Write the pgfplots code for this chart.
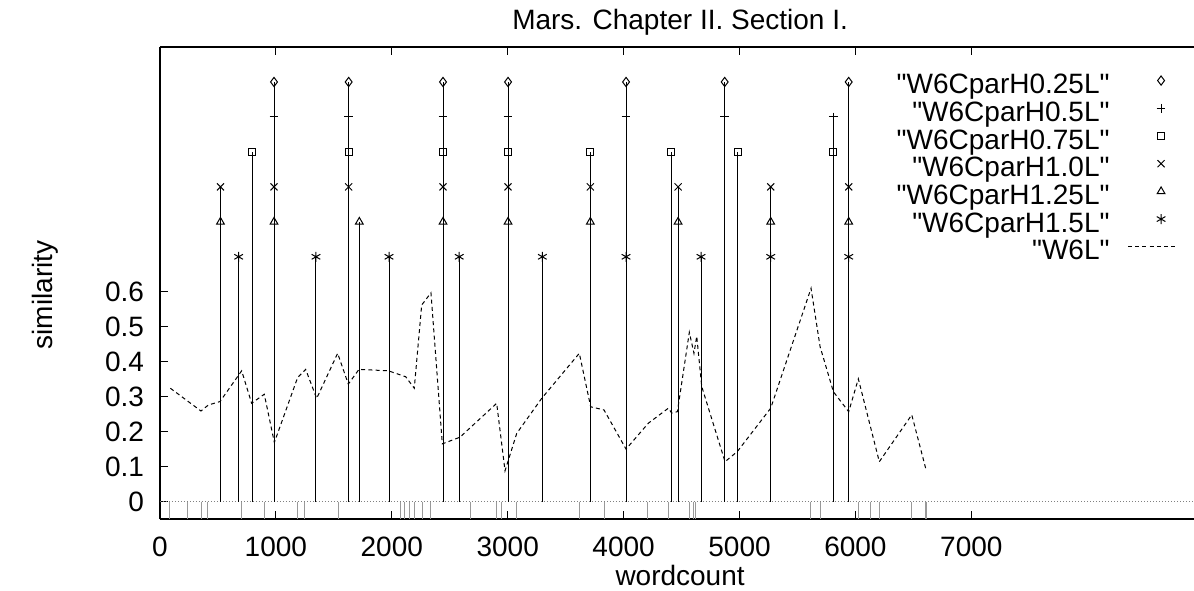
\documentclass[border=0pt]{standalone}
\usepackage{fontspec}
\setmainfont{Liberation Sans}[Ligatures=TeXOff]
\usepackage{pgfplots}
\pgfplotsset{compat=1.18}
% legend images: mark only for the combs, short dashed line for W6L
\pgfplotsset{
  combleg/.style={legend image code/.code={%
    \path (0pt,0pt) (33.5pt,0pt);
    \draw[##1] plot[only marks] coordinates {(25.5pt,3.5pt)};}},
  dashleg/.style={legend image code/.code={%
    \path (0pt,0pt);
    \draw[##1] (9pt,3.5pt) -- (33.5pt,3.5pt);}},
}
\begin{document}
\begin{tikzpicture}
\begin{axis}[
    width=517pt, height=236pt, scale only axis,
    xmin=0, xmax=8921, ymin=-0.05, ymax=1.3,
    axis x line*=box, axis y line*=left,
    y axis line style={-}, x axis line style={-},
    axis line style={line width=0.75pt},
    clip=false,
    xtick={0,1000,2000,3000,4000,5000,6000,7000},
    ytick={0,0.1,0.2,0.3,0.4,0.5,0.6},
    tick align=inside, xtick pos=both, ytick pos=left,
    major tick length=3.8pt,
    tick style={black, line width=0.5pt},
    scaled x ticks=false,
    /pgf/number format/1000 sep={},
    /pgf/number format/assume math mode=true,
    tick label style={font=\fontsize{14}{16}\selectfont},
    xticklabel style={inner sep=0pt, anchor=north, yshift=-8.85pt},
    yticklabel style={inner sep=0pt, anchor=east, xshift=-7.8pt},
    every axis title shift=0pt,
    title={Mars. Chapter II. Section I.},
    title style={font=\fontsize{14}{16}\selectfont, at={(0.503,1.0375)}, anchor=base, inner sep=0pt},
    xlabel={wordcount},
    xlabel style={font=\fontsize{14}{16}\selectfont, at={(0.503,-0.1398)}, anchor=base, inner sep=0pt},
    ylabel={similarity},
    ylabel style={font=\fontsize{14}{16}\selectfont, at={(-0.1112,0.4746)}, anchor=center, inner sep=0pt},
    legend plot pos=right,
    legend cell align=right,
    legend style={draw=none, fill=none, inner sep=0pt, row sep=0pt,
        at={(0.9845,0.9443)}, anchor=north east,
        font=\fontsize{14}{16}\selectfont,
        nodes={inner sep=0pt, text height=10pt, text depth=3.85pt}},
    every axis plot/.append style={line width=0.5pt},
    mark size=1.9pt,
]

% gray rug marks under the zero line
\addplot[gray!80, unbounded coords=jump, forget plot] coordinates {
(86,0) (86,-0.05) (86,nan)
(236,0) (236,-0.05) (236,nan)
(360,0) (360,-0.05) (360,nan)
(408,0) (408,-0.05) (408,nan)
(705,0) (705,-0.05) (705,nan)
(900,0) (900,-0.05) (900,nan)
(1188,0) (1188,-0.05) (1188,nan)
(1251,0) (1251,-0.05) (1251,nan)
(1539,0) (1539,-0.05) (1539,nan)
(2077,0) (2077,-0.05) (2077,nan)
(2114,0) (2114,-0.05) (2114,nan)
(2151,0) (2151,-0.05) (2151,nan)
(2200,0) (2200,-0.05) (2200,nan)
(2267,0) (2267,-0.05) (2267,nan)
(2338,0) (2338,-0.05) (2338,nan)
(2681,0) (2681,-0.05) (2681,nan)
(2905,0) (2905,-0.05) (2905,nan)
(2948,0) (2948,-0.05) (2948,nan)
(3078,0) (3078,-0.05) (3078,nan)
(3616,0) (3616,-0.05) (3616,nan)
(3831,0) (3831,-0.05) (3831,nan)
(4208,0) (4208,-0.05) (4208,nan)
(4386,0) (4386,-0.05) (4386,nan)
(4567,0) (4567,-0.05) (4567,nan)
(4607,0) (4607,-0.05) (4607,nan)
(4624,0) (4624,-0.05) (4624,nan)
(5614,0) (5614,-0.05) (5614,nan)
(5701,0) (5701,-0.05) (5701,nan)
(6025,0) (6025,-0.05) (6025,nan)
(6132,0) (6132,-0.05) (6132,nan)
(6206,0) (6206,-0.05) (6206,nan)
(6486,0) (6486,-0.05) (6486,nan)
(6601,0) (6601,-0.05) (6601,nan)
(6616,0) (6616,-0.05) (6616,nan)
};

% dotted zero line
\addplot[gray, dash pattern=on 0.6pt off 0.9pt, forget plot] coordinates {(0,0) (8921,0)};

\addplot[ycomb, black, mark=diamond, mark size=2.3pt, combleg] coordinates {
(984,1.2) (1628,1.2) (2442,1.2) (3003,1.2) (4021,1.2) (4872,1.2) (5942,1.2)};
\addlegendentry{"W6CparH0.25L"}
\addplot[ycomb, black, mark=+, mark size=2.2pt, combleg] coordinates {
(984,1.1) (1628,1.1) (2442,1.1) (3003,1.1) (4021,1.1) (4872,1.1) (5809,1.1)};
\addlegendentry{"W6CparH0.5L"}
\addplot[ycomb, black, mark=square, mark size=1.8pt, combleg] coordinates {
(796,1.0) (1628,1.0) (2442,1.0) (3003,1.0) (3713,1.0) (4409,1.0) (4985,1.0) (5809,1.0)};
\addlegendentry{"W6CparH0.75L"}
\addplot[ycomb, black, mark=x, mark size=2.5pt, combleg] coordinates {
(522,0.9) (984,0.9) (1628,0.9) (2442,0.9) (3003,0.9) (3713,0.9) (4470,0.9) (5269,0.9) (5942,0.9)};
\addlegendentry{"W6CparH1.0L"}
\addplot[ycomb, black, mark=triangle, mark size=2.2pt, combleg] coordinates {
(522,0.8) (984,0.8) (1720,0.8) (2442,0.8) (3003,0.8) (3713,0.8) (4470,0.8) (5269,0.8) (5942,0.8)};
\addlegendentry{"W6CparH1.25L"}
\addplot[ycomb, black, mark=asterisk, mark size=2.5pt, combleg] coordinates {
(679,0.7) (1346,0.7) (1976,0.7) (2582,0.7) (3299,0.7) (4021,0.7) (4668,0.7) (5269,0.7) (5942,0.7)};
\addlegendentry{"W6CparH1.5L"}

\addplot[black, dash pattern=on 2pt off 1.6pt, dashleg] coordinates {
(90,0.324) (354,0.259) (417,0.276) (518,0.286) (705,0.374) (791,0.281)
(900,0.307) (987,0.169) (1188,0.355) (1257,0.378) (1352,0.295) (1533,0.424)
(1625,0.336) (1717,0.378) (1970,0.374) (2120,0.357) (2194,0.324) (2258,0.562)
(2338,0.597) (2436,0.165) (2588,0.184) (2905,0.281) (2977,0.088) (3078,0.195)
(3293,0.295) (3618,0.424) (3716,0.271) (3831,0.262) (4021,0.150) (4213,0.224)
(4386,0.267) (4415,0.253) (4464,0.257) (4567,0.484) (4607,0.424) (4631,0.473)
(4674,0.329) (4875,0.114) (4981,0.143) (5269,0.267) (5617,0.610) (5695,0.443)
(5810,0.314) (5942,0.257) (6025,0.351) (6206,0.114) (6486,0.248) (6606,0.095)};
\addlegendentry{"W6L"}

\coordinate (bbl) at (rel axis cs:-0.1547,-0.1504);
\coordinate (btr) at (rel axis cs:1,1.0996);
\end{axis}
\pgfresetboundingbox
\path[use as bounding box] (bbl) rectangle (btr);
\end{tikzpicture}
\end{document}
